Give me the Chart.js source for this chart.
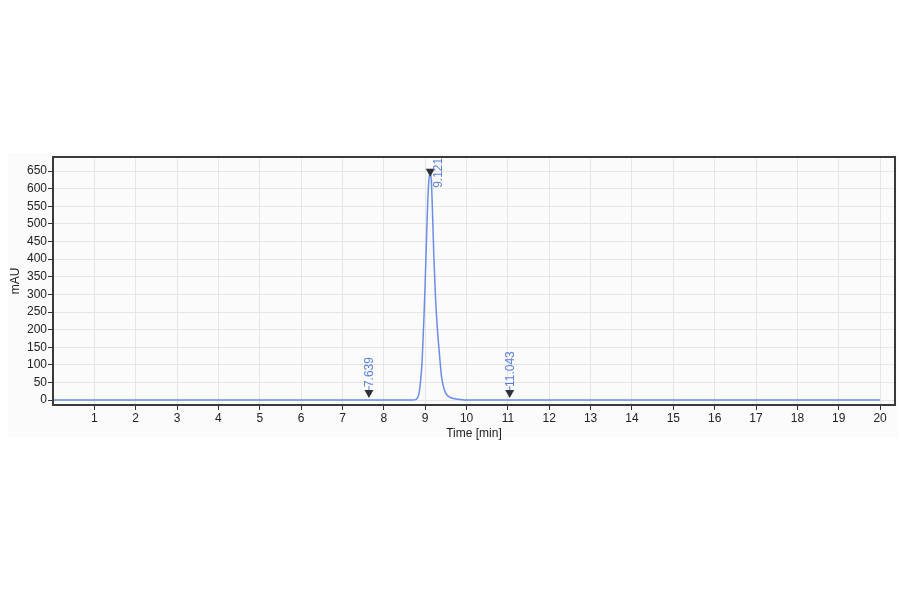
<!DOCTYPE html>
<html>
<head>
<meta charset="utf-8">
<script src="https://cdn.jsdelivr.net/npm/chart.js@4.4.1/dist/chart.umd.min.js"></script>
<style>
  html, body { margin: 0; padding: 0; background: #fff; }
  #wrap { width: 900px; height: 594px; position: relative; }
</style>
</head>
<body>
<div id="wrap"><canvas id="chrom"></canvas></div>
<script>
// chromatogram trace
const timeMin = [0, 8.70, 8.78, 8.83, 8.86, 8.89, 8.92, 8.94, 8.97, 9.00, 9.03, 9.06, 9.09, 9.121, 9.15, 9.18, 9.21, 9.25, 9.29, 9.33, 9.37, 9.40, 9.46, 9.52, 9.60, 9.70, 9.80, 9.90, 10.0, 20.0];
const signalMAU = [0, 0, 2, 10, 25, 57, 100, 150, 235, 335, 450, 560, 625, 645, 620, 520, 405, 290, 210, 150, 95, 62, 30, 15, 8, 4, 2, 1, 0.5, 0];

// peak markers
const markTimes = [7.639, 9.121, 11.043];
const markHeights = [0, 645, 0];
const markLabels = ['7.639', '9.121', '11.043'];

const xTicks = [1,2,3,4,5,6,7,8,9,10,11,12,13,14,15,16,17,18,19,20];
const yTicks = [0,50,100,150,200,250,300,350,400,450,500,550,600,650];

const traceColor = '#6a8ee6';
const labelColor = '#5b80dc';

const frameAndMarks = {
  id: 'frameAndMarks',
  beforeDraw(chart) {
    const c = chart.ctx;
    c.save();
    c.fillStyle = '#fbfbfb';
    c.fillRect(8, 153, 890, 284);
    c.restore();
  },
  afterDatasetsDraw(chart) {
    const c = chart.ctx, a = chart.chartArea;
    const xs = chart.scales.x, ys = chart.scales.y;
    c.save();
    c.strokeStyle = '#3a3a3a';
    c.lineWidth = 2;
    c.strokeRect(a.left, a.top, a.right - a.left, a.bottom - a.top);

    markTimes.forEach((t, i) => {
      const px = xs.getPixelForValue(t);
      const py = ys.getPixelForValue(markHeights[i]);
      const peak = markHeights[i] > 0;
      // triangle pointing down
      const tipY = peak ? py + 4 : py - 2;
      c.fillStyle = '#2f3236';
      c.beginPath();
      c.moveTo(px - 4.5, tipY - 8);
      c.lineTo(px + 4.5, tipY - 8);
      c.lineTo(px, tipY);
      c.closePath();
      c.fill();

      c.fillStyle = labelColor;
      c.font = '12px "Liberation Sans", Arial, sans-serif';
      c.textAlign = 'left';
      c.textBaseline = 'middle';
      c.save();
      if (peak) {
        c.translate(px + 8, py + 15);
      } else {
        c.strokeStyle = labelColor;
        c.lineWidth = 1;
        c.beginPath();
        c.moveTo(px, tipY - 8);
        c.lineTo(px, tipY - 12);
        c.stroke();
        c.translate(px + 1, tipY - 11);
      }
      c.rotate(-Math.PI / 2);
      c.fillText(markLabels[i], 0, 0);
      c.restore();
    });
    c.restore();
  }
};

new Chart(document.getElementById('chrom'), {
  type: 'line',
  data: {
    datasets: [{
      data: timeMin.map((t, i) => ({ x: t, y: signalMAU[i] })),
      borderColor: traceColor,
      borderWidth: 1.5,
      pointRadius: 0,
      fill: false,
      cubicInterpolationMode: 'monotone'
    }]
  },
  options: {
    responsive: true,
    maintainAspectRatio: false,
    animation: false,
    events: [],
    layout: { padding: { top: 157, right: 5, left: 0, bottom: 153 } },
    plugins: { legend: { display: false }, tooltip: { enabled: false } },
    scales: {
      x: {
        type: 'linear',
        min: 0,
        max: 20.36,
        afterBuildTicks: s => { s.ticks = xTicks.map(v => ({ value: v })); },
        afterFit: s => { s.height = 36; },
        grid: { color: '#e6e6e6', tickColor: '#333', tickLength: 5, lineWidth: 1 },
        border: { color: '#3a3a3a', width: 2 },
        ticks: { color: '#222', font: { size: 12, family: '"Liberation Sans", Arial, sans-serif' }, padding: 1, maxRotation: 0 },
        title: { display: true, text: 'Time [min]', color: '#222', font: { size: 12, family: '"Liberation Sans", Arial, sans-serif' }, padding: { top: 0, bottom: 0 } }
      },
      y: {
        min: -14,
        max: 690,
        afterBuildTicks: s => { s.ticks = yTicks.map(v => ({ value: v })); },
        afterFit: s => { s.width = 53; },
        grid: { color: '#e6e6e6', tickColor: '#333', tickLength: 5, lineWidth: 1 },
        border: { color: '#3a3a3a', width: 2 },
        ticks: { color: '#222', font: { size: 12, family: '"Liberation Sans", Arial, sans-serif' }, padding: 1 },
        title: { display: true, text: 'mAU', color: '#222', font: { size: 12, family: '"Liberation Sans", Arial, sans-serif' }, padding: { top: 8, bottom: 0 } }
      }
    }
  },
  plugins: [frameAndMarks]
});
</script>
</body>
</html>
